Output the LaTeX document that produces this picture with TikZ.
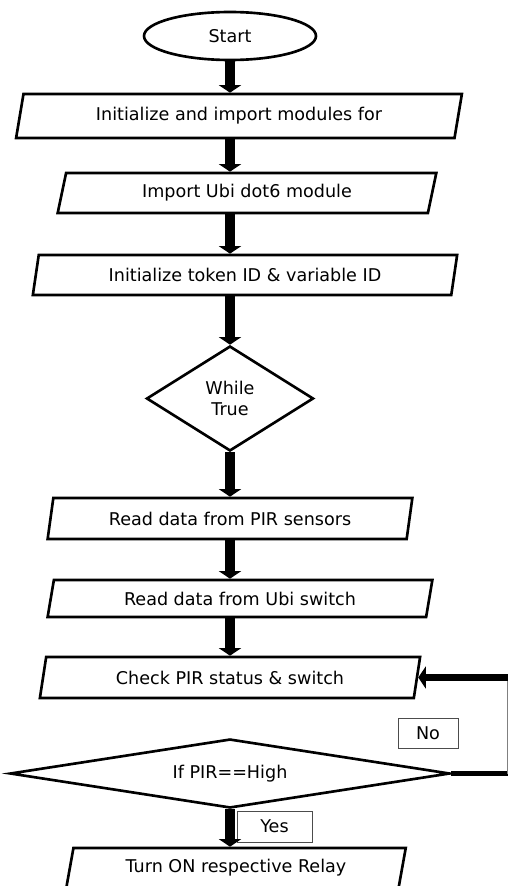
\documentclass[tikz,border=0pt]{standalone}
\usepackage{fontspec}
\setmainfont{DejaVu Sans}
\usetikzlibrary{shapes.geometric, arrows.meta, positioning}
\tikzstyle{startstop} = [ellipse, minimum width=3.44cm, minimum height=0.96cm, text centered, draw=black, line width=1.5pt]
\tikzstyle{io} = [trapezium, trapezium left angle=74, trapezium right angle=106, trapezium stretches=true, minimum height=0.8cm, text centered, draw=black, line width=1.5pt, inner sep=0pt]
\tikzstyle{decision} = [diamond, align=center, draw=black, line width=1.5pt, inner sep=0pt]
\tikzstyle{tag} = [rectangle, draw=black!70, thin, minimum width=1.2cm, minimum height=0.6cm]
\tikzstyle{arrow} = [line width=6pt,-{Triangle[length=1.5mm,width=4.4mm]}]

\begin{document}
\begin{tikzpicture}[node distance=1.6cm, font=\fontsize{10}{12}\selectfont]
\useasboundingbox (-4.6,0.72) rectangle (5.58,-17.0);

\node (start) [startstop] {Start};
\node (init) [io, below of=start, xshift=.18cm, minimum width=8.92cm, minimum height=0.88cm] {Initialize and import modules for};
\node (ubidots) [io, below of=init, xshift=.16cm, yshift=.06cm, minimum width=7.58cm] {Import Ubi dot6 module};
\node (token) [io, below of=ubidots, xshift=-.04cm, yshift=-.04cm, minimum width=8.5cm] {Initialize token ID \& variable ID};
\node (loop) [decision, aspect=1.6, below of=token, xshift=-.3cm, yshift=-.87cm, minimum width=3.34cm, minimum height=2.1cm] {While\\True};
\node (readPir) [io, below of=loop, yshift=-.8cm, minimum width=7.3cm, minimum height=0.82cm] {Read data from PIR sensors};
\node (readSwitch) [io, below of=readPir, xshift=.2cm, minimum width=7.7cm, minimum height=0.74cm] {Read data from Ubi switch};
\node (check) [io, below of=readSwitch, xshift=-.2cm, yshift=.02cm, minimum width=7.62cm, minimum height=0.82cm] {Check PIR status \& switch};
\node (ifHigh) [decision, aspect=6.4, below of=check, yshift=-.32cm, minimum width=8.8cm, minimum height=1.38cm] {If PIR==High};
\node (relay) [io, below of=ifHigh, xshift=.12cm, yshift=-.29cm, minimum width=6.8cm] {Turn ON respective Relay};
\node (yesTag) [tag, below of=ifHigh, xshift=.89cm, yshift=.54cm, minimum width=1.5cm, minimum height=0.62cm] {Yes};
\node (noTag) [tag, above of=ifHigh, xshift=3.96cm, yshift=-.79cm] {No};
\coordinate (rightEdge) at (5.55,0);

\draw [arrow] (start) -- (start |- init.north);
\draw [arrow] (init.south -| start) -- (ubidots.north -| start);
\draw [arrow] (ubidots.south -| start) -- (token.north -| start);
\draw [arrow] (token.south -| start) -- (loop.north);
\draw [arrow] (loop) -- (loop |- readPir.north);
\draw [arrow] (readPir.south -| start) -- (readSwitch.north -| start);
\draw [arrow] (readSwitch.south -| start) -- (check.north -| start);
\draw [arrow] (ifHigh) -- (ifHigh |- relay.north);
% no branch back to the check
\draw [line width=2.5pt] (ifHigh.east) -- (ifHigh.east -| rightEdge);
\draw [thin, black!50] (ifHigh.east -| rightEdge) -- (check.east -| rightEdge);
\draw [arrow, line width=4.5pt] (check.east -| rightEdge) -- (check.east);
\end{tikzpicture}
\end{document}
